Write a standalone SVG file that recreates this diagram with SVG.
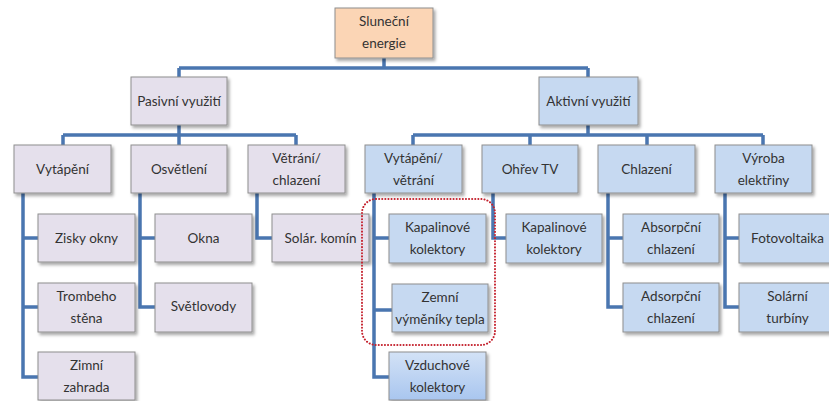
<svg xmlns="http://www.w3.org/2000/svg" width="829" height="401" viewBox="0 0 829 401">
<defs>
<filter id="sh" x="-10%" y="-10%" width="130%" height="140%">
<feDropShadow dx="2" dy="2.5" stdDeviation="1.5" flood-color="#000" flood-opacity="0.35"/>
</filter>
<linearGradient id="vz" x1="0" y1="0" x2="0" y2="1">
<stop offset="0" stop-color="#d3e2f6"/>
<stop offset="1" stop-color="#a9c6ef"/>
</linearGradient>
</defs>
<style>
rect.b{stroke:#8e8e8e;stroke-width:1;filter:url(#sh)}
.root{fill:#fbd5b5}
.pas{fill:#e5e0ec}
.akt{fill:#c6d9f1}
.vz{fill:url(#vz)}
text{font-family:Lato,"Open Sans","Liberation Sans",sans-serif;font-size:13.5px;fill:#333;text-anchor:middle}
#connectors path{fill:none;stroke:#4a76b0;stroke-width:3.5;stroke-linejoin:miter}
#oval{fill:none;stroke:#c4212d;stroke-width:2;stroke-dasharray:0.1 3;stroke-linecap:round}
</style>
<rect width="829" height="401" fill="#fff"/>
<g id="connectors">
<path d="M384 58V68M179 68H588M179 68V77M588 68V77"/>
<path d="M179 125V135M63 135H296M63 135V145M179 135V145M296 135V145"/>
<path d="M588 125V135M413 135H763M413 135V145M530 135V145M647 135V145M763 135V145"/>
<path d="M23 193V377H38M23 238H38M23 307H38"/>
<path d="M140 193V307H155M140 238H155"/>
<path d="M257 193V238H272"/>
<path d="M374 193V377H389M374 238H389M374 310H392"/>
<path d="M493 193V238H506"/>
<path d="M608 193V307H623M608 238H623"/>
<path d="M725 193V307H739M725 238H739"/>
</g>
<g id="n-root"><rect class="b root" x="335" y="8" width="98" height="50"/><text x="384" y="26">Sluneční</text><text x="384" y="48">energie</text></g>
<g id="n-pasivni"><rect class="b pas" x="131" y="77" width="96" height="48"/><text x="179" y="105.5">Pasivní využití</text></g>
<g id="n-aktivni"><rect class="b akt" x="539" y="77" width="99" height="48"/><text x="588.5" y="105.5">Aktivní využití</text></g>
<g id="n-vytapeni"><rect class="b pas" x="14" y="145" width="97" height="48"/><text x="62.5" y="173.5">Vytápění</text></g>
<g id="n-osvetleni"><rect class="b pas" x="131" y="145" width="96" height="48"/><text x="179" y="173.5">Osvětlení</text></g>
<g id="n-vetrani"><rect class="b pas" x="248" y="145" width="97" height="48"/><text x="296.5" y="163">Větrání/</text><text x="296.5" y="185">chlazení</text></g>
<g id="n-vytvetr"><rect class="b akt" x="365" y="145" width="97" height="48"/><text x="413.5" y="163">Vytápění/</text><text x="413.5" y="185">větrání</text></g>
<g id="n-ohrev"><rect class="b akt" x="482" y="145" width="96" height="48"/><text x="530" y="173.5">Ohřev TV</text></g>
<g id="n-chlazeni"><rect class="b akt" x="598" y="145" width="97" height="48"/><text x="646.5" y="173.5">Chlazení</text></g>
<g id="n-vyroba"><rect class="b akt" x="715" y="145" width="97" height="48"/><text x="763.5" y="163">Výroba</text><text x="763.5" y="185">elektřiny</text></g>
<g id="n-zisky"><rect class="b pas" x="38" y="214" width="97" height="48"/><text x="86.5" y="242.5">Zisky okny</text></g>
<g id="n-trombe"><rect class="b pas" x="38" y="283" width="97" height="49"/><text x="86.5" y="301">Trombeho</text><text x="86.5" y="323">stěna</text></g>
<g id="n-zimni"><rect class="b pas" x="38" y="352" width="97" height="48"/><text x="86.5" y="370">Zimní</text><text x="86.5" y="392">zahrada</text></g>
<g id="n-okna"><rect class="b pas" x="155" y="214" width="97" height="48"/><text x="203.5" y="242.5">Okna</text></g>
<g id="n-svetlovody"><rect class="b pas" x="155" y="283" width="97" height="49"/><text x="203.5" y="311">Světlovody</text></g>
<g id="n-komin"><rect class="b pas" x="272" y="214" width="97" height="48"/><text x="320.5" y="242.5">Solár. komín</text></g>
<g id="n-kapal1"><rect class="b akt" x="389" y="214" width="97" height="49"/><text x="437.5" y="232">Kapalinové</text><text x="437.5" y="254">kolektory</text></g>
<g id="n-zemni"><rect class="b akt" x="392" y="284" width="96" height="48"/><text x="440" y="302">Zemní</text><text x="440" y="324">výměníky tepla</text></g>
<g id="n-vzduch"><rect class="b vz" x="389" y="352" width="97" height="48"/><text x="437.5" y="370">Vzduchové</text><text x="437.5" y="392">kolektory</text></g>
<g id="n-kapal2"><rect class="b akt" x="506" y="214" width="96" height="49"/><text x="554" y="232">Kapalinové</text><text x="554" y="254">kolektory</text></g>
<g id="n-absorp"><rect class="b akt" x="623" y="214" width="96" height="49"/><text x="671" y="232">Absorpční</text><text x="671" y="254">chlazení</text></g>
<g id="n-adsorp"><rect class="b akt" x="623" y="283" width="96" height="49"/><text x="671" y="301">Adsorpční</text><text x="671" y="323">chlazení</text></g>
<g id="n-foto"><rect class="b akt" x="739" y="214" width="97" height="49"/><text x="787.5" y="242.5">Fotovoltaika</text></g>
<g id="n-turbiny"><rect class="b akt" x="739" y="283" width="97" height="49"/><text x="787.5" y="301">Solární</text><text x="787.5" y="323">turbíny</text></g>
<rect id="oval" x="362" y="199" width="133" height="146" rx="14"/>
</svg>
